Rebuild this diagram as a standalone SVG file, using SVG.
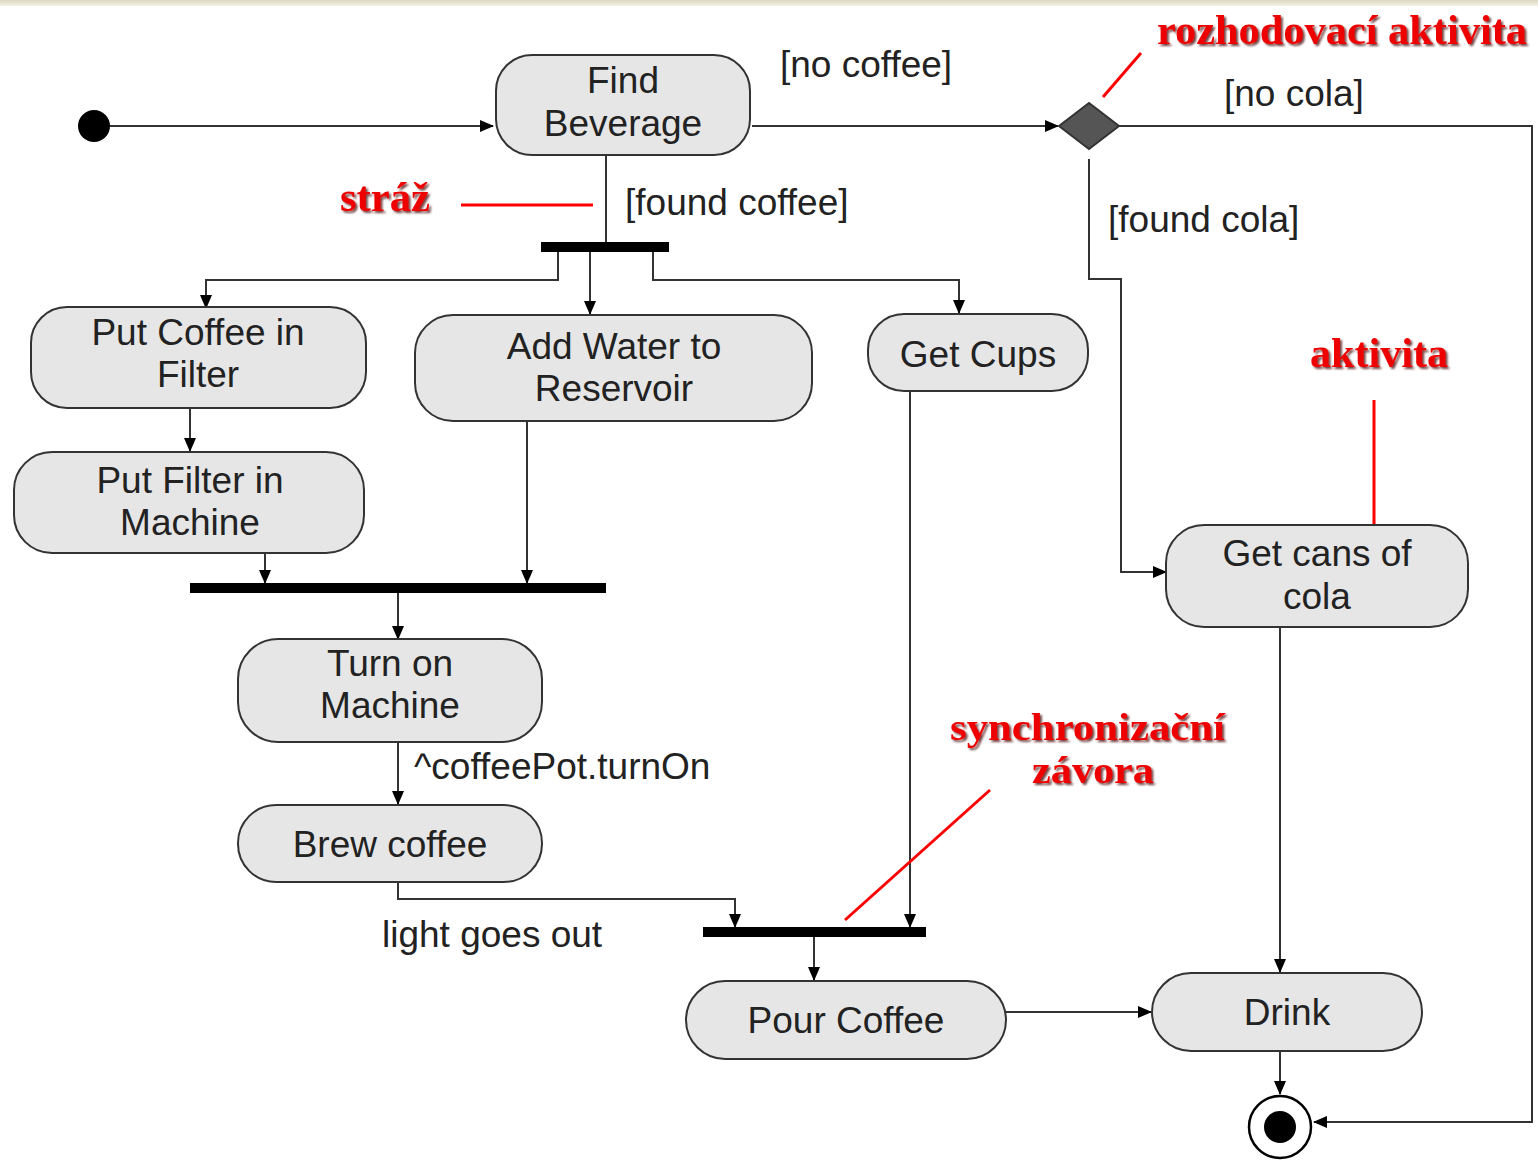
<svg xmlns="http://www.w3.org/2000/svg" width="1538" height="1160" viewBox="0 0 1538 1160">
<defs>
<linearGradient id="strip" x1="0" y1="0" x2="0" y2="1">
<stop offset="0" stop-color="#dcd8c0"/><stop offset="1" stop-color="#f4f2e8"/>
</linearGradient>
<marker id="arr" markerUnits="userSpaceOnUse" markerWidth="14" markerHeight="12" refX="13" refY="6" orient="auto">
<path d="M0,0 L14,6 L0,12 Z" fill="#000"/>
</marker>
<filter id="sh" x="-10%" y="-20%" width="130%" height="150%">
<feDropShadow dx="2" dy="2" stdDeviation="1" flood-color="#400" flood-opacity="0.75"/>
</filter>
<style>
.node{fill:#e6e6e6;stroke:#333;stroke-width:2}
.t{font-family:"Liberation Sans",Arial,sans-serif;font-size:37px;fill:#222;text-anchor:middle}
.lbl{font-family:"Liberation Sans",Arial,sans-serif;font-size:37px;fill:#222}
.c{fill:none;stroke:#333;stroke-width:2}
.bar{fill:#000}
.red{font-family:"Liberation Serif","Times New Roman",serif;font-weight:bold;font-size:42px;fill:#ee0000;filter:url(#sh)}
.red2{font-size:38px}
.rl{stroke:#ff0000;stroke-width:3;fill:none}
</style>
</defs>
<rect x="0" y="0" width="1538" height="1160" fill="#fff"/>
<rect x="0" y="0" width="1538" height="6" fill="url(#strip)"/>

<g id="connectors">
<path class="c" d="M110,126 H493" marker-end="url(#arr)"/>
<path class="c" d="M752,126 H1058" marker-end="url(#arr)"/>
<path class="c" d="M1119,126 H1532 V1122 H1314" marker-end="url(#arr)"/>
<path class="c" d="M1089,159 V279 H1121 V572 H1166" marker-end="url(#arr)"/>
<path class="c" d="M606,155 V242"/>
<path class="c" d="M558,251 V280 H206 V308" marker-end="url(#arr)"/>
<path class="c" d="M590,251 V314" marker-end="url(#arr)"/>
<path class="c" d="M653,251 V280 H959 V313" marker-end="url(#arr)"/>
<path class="c" d="M190,408 V451" marker-end="url(#arr)"/>
<path class="c" d="M265,553 V583" marker-end="url(#arr)"/>
<path class="c" d="M527,421 V583" marker-end="url(#arr)"/>
<path class="c" d="M398,593 V639" marker-end="url(#arr)"/>
<path class="c" d="M398,742 V804" marker-end="url(#arr)"/>
<path class="c" d="M398,882 V899 H735 V927" marker-end="url(#arr)"/>
<path class="c" d="M910,391 V927" marker-end="url(#arr)"/>
<path class="c" d="M814,937 V980" marker-end="url(#arr)"/>
<path class="c" d="M1006,1012 H1151" marker-end="url(#arr)"/>
<path class="c" d="M1280,628 V972" marker-end="url(#arr)"/>
<path class="c" d="M1280,1051 V1094" marker-end="url(#arr)"/>
</g>

<g id="labels">
<text class="lbl" x="780" y="77">[no coffee]</text>
<text class="lbl" x="1224" y="106">[no cola]</text>
<text class="lbl" x="625" y="215">[found coffee]</text>
<text class="lbl" x="1108" y="232">[found cola]</text>
<text class="lbl" x="414" y="779">^coffeePot.turnOn</text>
<text class="lbl" x="382" y="947">light goes out</text>
</g>

<g id="start"><circle cx="94" cy="126" r="16" fill="#000"/></g>
<g id="decision"><path d="M1059,126 L1089,103 L1119,126 L1089,149 Z" fill="#555" stroke="#333" stroke-width="2"/></g>
<g id="fork1"><rect class="bar" x="541" y="242" width="128" height="10"/></g>
<g id="join1"><rect class="bar" x="190" y="583" width="416" height="10"/></g>
<g id="join2"><rect class="bar" x="703" y="927" width="223" height="10"/></g>
<g id="final"><circle cx="1280" cy="1127" r="31" fill="#fff" stroke="#000" stroke-width="2.5"/><circle cx="1280" cy="1127" r="16" fill="#000"/></g>

<g id="find-beverage"><rect class="node" x="496" y="55" width="254" height="100" rx="36"/><text class="t" x="623" y="93">Find</text><text class="t" x="623" y="136">Beverage</text></g>
<g id="put-coffee"><rect class="node" x="31" y="307" width="335" height="101" rx="36"/><text class="t" x="198" y="345">Put Coffee in</text><text class="t" x="198" y="387">Filter</text></g>
<g id="put-filter"><rect class="node" x="14" y="452" width="350" height="101" rx="38"/><text class="t" x="190" y="493">Put Filter in</text><text class="t" x="190" y="535">Machine</text></g>
<g id="add-water"><rect class="node" x="415" y="315" width="397" height="106" rx="38"/><text class="t" x="614" y="359">Add Water to</text><text class="t" x="614" y="401">Reservoir</text></g>
<g id="get-cups"><rect class="node" x="868" y="314" width="220" height="77" rx="36"/><text class="t" x="978" y="367">Get Cups</text></g>
<g id="get-cola"><rect class="node" x="1166" y="525" width="302" height="102" rx="38"/><text class="t" x="1317" y="566">Get cans of</text><text class="t" x="1317" y="609">cola</text></g>
<g id="turn-on"><rect class="node" x="238" y="639" width="304" height="103" rx="40"/><text class="t" x="390" y="676">Turn on</text><text class="t" x="390" y="718">Machine</text></g>
<g id="brew"><rect class="node" x="238" y="805" width="304" height="77" rx="38"/><text class="t" x="390" y="857">Brew coffee</text></g>
<g id="pour"><rect class="node" x="686" y="981" width="320" height="78" rx="39"/><text class="t" x="846" y="1033">Pour Coffee</text></g>
<g id="drink"><rect class="node" x="1152" y="973" width="270" height="78" rx="39"/><text class="t" x="1287" y="1025">Drink</text></g>

<g id="annotations">
<line class="rl" x1="1141" y1="53" x2="1103" y2="97"/>
<line class="rl" x1="461" y1="205" x2="593" y2="205"/>
<line class="rl" x1="1374" y1="400" x2="1374" y2="524"/>
<line class="rl" x1="990" y1="790" x2="845" y2="920"/>
<text class="red" x="1157" y="44" textLength="370" lengthAdjust="spacingAndGlyphs">rozhodovací aktivita</text>
<text class="red" x="340" y="211" textLength="90" lengthAdjust="spacingAndGlyphs">stráž</text>
<text class="red" x="1310" y="367" textLength="138" lengthAdjust="spacingAndGlyphs">aktivita</text>
<text class="red red2" x="950" y="740" textLength="275" lengthAdjust="spacingAndGlyphs">synchronizační</text>
<text class="red red2" x="1032" y="783" textLength="122" lengthAdjust="spacingAndGlyphs">závora</text>
</g>
</svg>
